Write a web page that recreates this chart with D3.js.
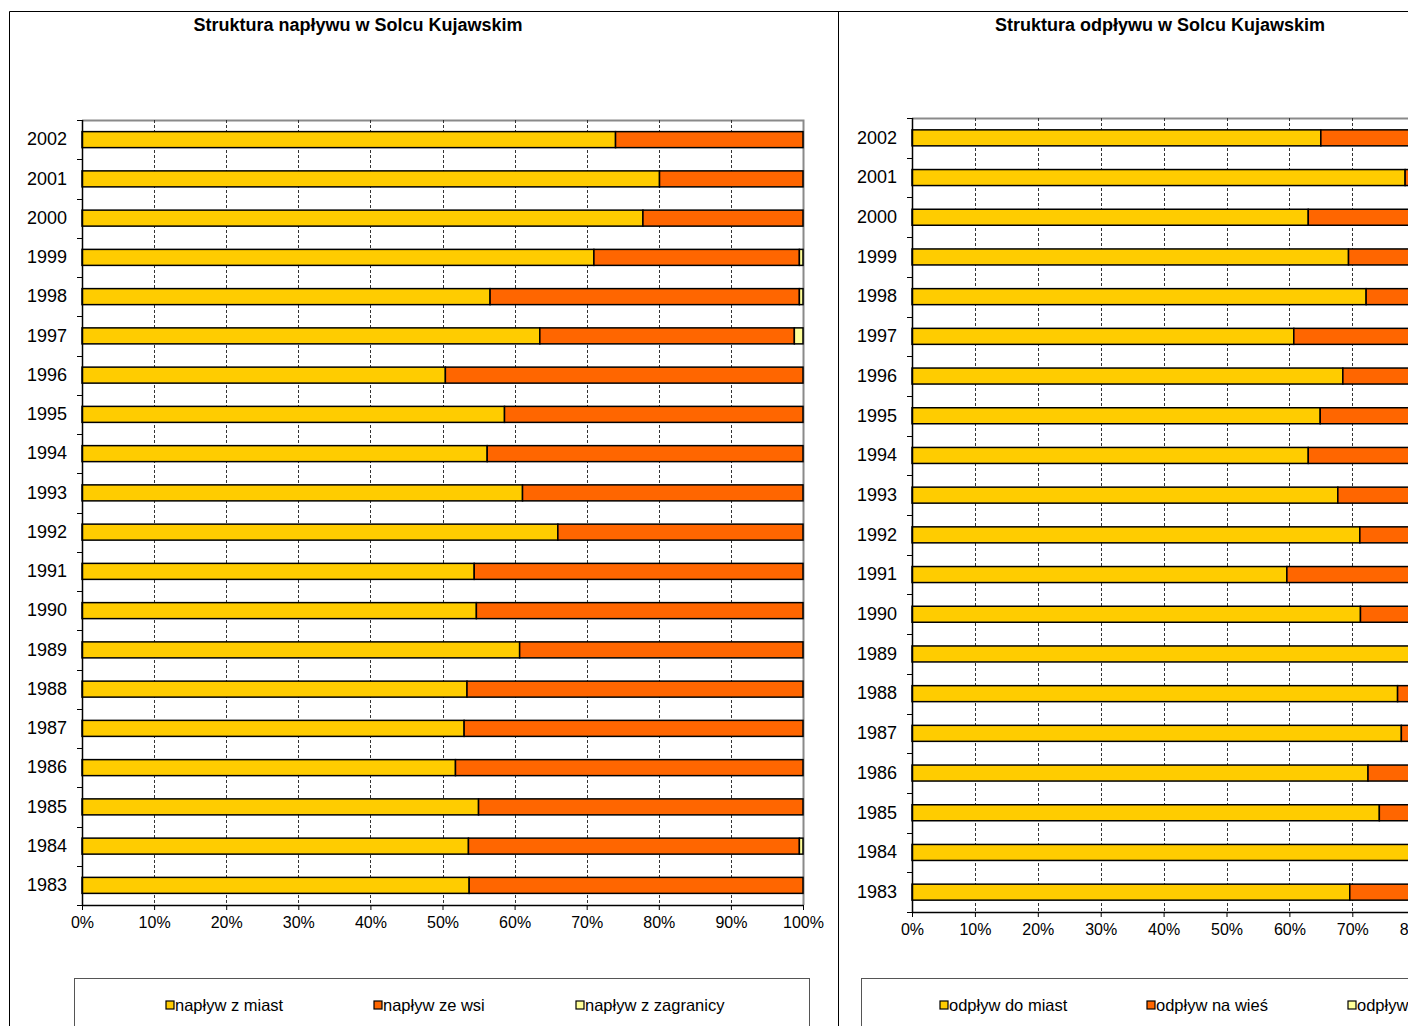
<!DOCTYPE html>
<html>
<head>
<meta charset="utf-8">
<script src="https://cdn.jsdelivr.net/npm/d3@7"></script>
<style>
  html, body { margin: 0; padding: 0; background: #fff; }
  svg { display: block; font-family: "Liberation Sans", Arial, sans-serif; }
</style>
</head>
<body>
<svg id="chart" width="1408" height="1026"></svg>
<script>
// Years, top to bottom
const years = [2002, 2001, 2000, 1999, 1998, 1997, 1996, 1995, 1994, 1993,
               1992, 1991, 1990, 1989, 1988, 1987, 1986, 1985, 1984, 1983];

// Inflow structure (% of total)
const inflowCity    = [74.0, 80.1, 77.8, 71.0, 56.6, 63.5, 50.4, 58.6, 56.2, 61.1,
                       66.0, 54.4, 54.7, 60.7, 53.4, 53.0, 51.8, 55.0, 53.6, 53.7];
const inflowVillage = [26.0, 19.9, 22.2, 28.5, 42.9, 35.3, 49.6, 41.4, 43.8, 38.9,
                       34.0, 45.6, 45.3, 39.3, 46.6, 47.0, 48.2, 45.0, 45.9, 46.3];
const inflowAbroad  = [0, 0, 0, 0.5, 0.5, 1.2, 0, 0, 0, 0,
                       0, 0, 0, 0, 0, 0, 0, 0, 0.5, 0];

// Outflow structure (% of total)
const outflowCity    = [65.0, 78.4, 63.0, 69.4, 72.2, 60.7, 68.5, 64.9, 63.0, 67.7,
                        71.2, 59.6, 71.3, 86.0, 77.2, 77.8, 72.5, 74.3, 88.0, 69.6];
const outflowVillage = [33.5, 20.0, 35.5, 29.0, 26.6, 37.8, 30.0, 33.6, 35.6, 31.0,
                        27.3, 39.0, 27.2, 12.5, 21.3, 20.9, 26.0, 24.5, 10.8, 29.1];
const outflowAbroad  = [1.5, 1.6, 1.5, 1.6, 1.2, 1.5, 1.5, 1.5, 1.4, 1.3,
                        1.5, 1.4, 1.5, 1.5, 1.5, 1.3, 1.5, 1.2, 1.2, 1.3];

const tickValues = [0, 10, 20, 30, 40, 50, 60, 70, 80, 90, 100];
const inflowNames  = ["napływ z miast", "napływ ze wsi", "napływ z zagranicy"];
const outflowNames = ["odpływ do miast", "odpływ na wieś", "odpływ za granicę"];
const colors = ["#FFCC00", "#FF6600", "#FFFF99"];

const svg = d3.select("#chart");

// Panel frames
svg.append("path")
  .attr("d", "M9.5,1026 V11.5 H1408")
  .attr("fill", "none").attr("stroke", "#000").attr("stroke-width", 1);
svg.append("line")
  .attr("x1", 838.5).attr("x2", 838.5).attr("y1", 11.5).attr("y2", 1026)
  .attr("stroke", "#000").attr("stroke-width", 1);

function drawPanel(opt) {
  const g = svg.append("g");
  const x = d3.scaleLinear().domain([0, 100]).range([opt.x0, opt.x1]);
  const y = d3.scaleBand().domain(years).range([opt.y0, opt.y1]);

  // Title
  g.append("text")
    .attr("x", opt.titleX).attr("y", 31)
    .attr("text-anchor", "middle")
    .attr("font-size", 18).attr("font-weight", "bold")
    .text(opt.title);

  // Plot frame (top and right edges)
  g.append("path")
    .attr("d", `M${opt.x0},${opt.y0 + 0.5} H${x(100) + 0.5} V${opt.y1}`)
    .attr("fill", "none").attr("stroke", "#8a8a8a").attr("stroke-width", 2);

  // Vertical dashed gridlines
  g.append("g").selectAll("line")
    .data(tickValues.slice(1, -1))
    .join("line")
    .attr("x1", d => Math.round(x(d)) + 0.5).attr("x2", d => Math.round(x(d)) + 0.5)
    .attr("y1", opt.y0).attr("y2", opt.y1)
    .attr("stroke", "#333").attr("stroke-width", 1)
    .attr("stroke-dasharray", "3,2");

  // Stacked bars
  const rows = years.map((yr, i) => ({
    year: yr,
    parts: [opt.a[i], opt.b[i], opt.c[i]]
  }));
  const barH = 16;
  rows.forEach(r => {
    let acc = 0;
    r.parts.forEach((v, k) => {
      if (v <= 0) { return; }
      g.append("rect")
        .attr("x", x(acc))
        .attr("y", y(r.year) + y.bandwidth() / 2 - barH / 2)
        .attr("width", x(acc + v) - x(acc))
        .attr("height", barH)
        .attr("fill", colors[k])
        .attr("stroke", "#000").attr("stroke-width", 1.5);
      acc += v;
    });
  });

  // Category axis
  const yAxis = g.append("g")
    .attr("transform", `translate(${opt.x0},0)`)
    .call(d3.axisLeft(y).tickSize(0).tickPadding(15));
  yAxis.select(".domain").remove();
  yAxis.selectAll("text").attr("font-size", 18).attr("fill", "#000")
    .attr("font-family", "Liberation Sans, Arial, sans-serif");
  // Tick marks between categories
  const bounds = years.map(yr => y(yr)).concat([opt.y1]);
  g.append("g").selectAll("line")
    .data(bounds)
    .join("line")
    .attr("x1", opt.x0 - 5).attr("x2", opt.x0)
    .attr("y1", d => Math.round(d) + 0.5).attr("y2", d => Math.round(d) + 0.5)
    .attr("stroke", "#000").attr("stroke-width", 1);
  g.append("line")
    .attr("x1", opt.x0 + 0.5).attr("x2", opt.x0 + 0.5)
    .attr("y1", opt.y0).attr("y2", opt.y1)
    .attr("stroke", "#000").attr("stroke-width", 1.5);

  // Value axis
  const xAxis = g.append("g")
    .attr("transform", `translate(0,${opt.y1})`)
    .call(d3.axisBottom(x).tickValues(tickValues).tickFormat(d => d + "%")
      .tickSize(5).tickSizeOuter(0).tickPadding(7));
  xAxis.select(".domain").attr("stroke-width", 1.5);
  xAxis.selectAll("text").attr("font-size", 16).attr("fill", "#000")
    .attr("font-family", "Liberation Sans, Arial, sans-serif");

  // Legend box
  g.append("rect")
    .attr("x", opt.legX + 0.5).attr("y", 978.5)
    .attr("width", opt.legW).attr("height", 80)
    .attr("fill", "#fff").attr("stroke", "#555").attr("stroke-width", 1);
  opt.names.forEach((n, k) => {
    const lx = opt.legItems[k];
    g.append("rect")
      .attr("x", lx).attr("y", 1001)
      .attr("width", 8).attr("height", 8)
      .attr("fill", colors[k]).attr("stroke", "#000").attr("stroke-width", 1.2);
    g.append("text")
      .attr("x", lx + 9).attr("y", 1011)
      .attr("font-size", 16.5)
      .text(n);
  });
}

drawPanel({
  title: "Struktura napływu w Solcu Kujawskim", titleX: 358,
  x0: 82, x1: 803, y0: 120, y1: 905,
  a: inflowCity, b: inflowVillage, c: inflowAbroad,
  names: inflowNames,
  legX: 74, legW: 735, legItems: [166, 374, 576]
});

drawPanel({
  title: "Struktura odpływu w Solcu Kujawskim", titleX: 1160,
  x0: 912, x1: 1541, y0: 118, y1: 912,
  a: outflowCity, b: outflowVillage, c: outflowAbroad,
  names: outflowNames,
  legX: 861, legW: 735, legItems: [940, 1147, 1348]
});
</script>
</body>
</html>
